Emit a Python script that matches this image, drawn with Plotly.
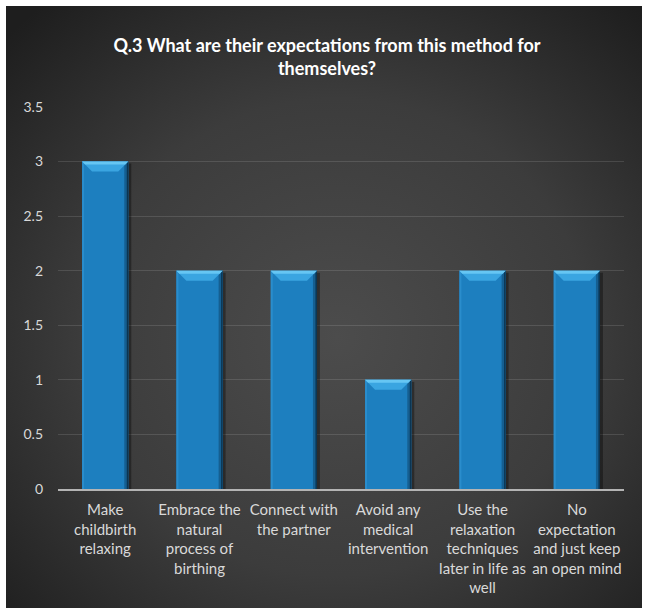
import base64
import plotly.graph_objects as go

# Survey responses: number of participants choosing each expectation
categories = [
    "Make<br>childbirth<br>relaxing",
    "Embrace the<br>natural<br>process of<br>birthing",
    "Connect with<br>the partner",
    "Avoid any<br>medical<br>intervention",
    "Use the<br>relaxation<br>techniques<br>later in life as<br>well",
    "No<br>expectation<br>and just keep<br>an open mind",
]
counts = [3, 2, 2, 1, 2, 2]
y_ticks = [0, 0.5, 1, 1.5, 2, 2.5, 3, 3.5]
y_tick_text = ["0", "0.5", "1", "1.5", "2", "2.5", "3", "3.5"]

title_text = "Q.3 What are their expectations from this method for<br>themselves?"

# Figure geometry
W, H = 645, 611
ML, MR, MT, MB = 58, 21, 107, 122
plot_w = W - ML - MR
plot_h = H - MT - MB
y_max = 3.5
n = len(categories)
xs = list(range(n))
bar_w = 0.49

# conversion of pixels to data units for the bar decorations
px_x = n / plot_w
px_y = y_max / plot_h

fig = go.Figure()
fig.add_trace(go.Bar(
    x=xs, y=counts, width=bar_w,
    marker=dict(color="#1d7fbf", line=dict(width=0)),
    hoverinfo="skip",
))

shapes = []
for xi, v in zip(xs, counts):
    x0 = xi - bar_w / 2
    x1 = xi + bar_w / 2
    # soft drop shadow on the right
    shapes.append(dict(type="rect", xref="x", yref="y", layer="between",
                       x0=x1, x1=x1 + 3 * px_x, y0=0, y1=v - 2 * px_y,
                       fillcolor="rgba(0,0,0,0.35)", line=dict(width=0)))
    # lighter left edge
    shapes.append(dict(type="rect", xref="x", yref="y", layer="above",
                       x0=x0, x1=x0 + 2 * px_x, y0=0, y1=v,
                       fillcolor="#2a8dcc", line=dict(width=0)))
    # darker right edge
    shapes.append(dict(type="rect", xref="x", yref="y", layer="above",
                       x0=x1 - 4 * px_x, x1=x1, y0=0, y1=v,
                       fillcolor="#155f91", line=dict(width=0)))
    shapes.append(dict(type="rect", xref="x", yref="y", layer="above",
                       x0=x1 - 1.5 * px_x, x1=x1, y0=0, y1=v,
                       fillcolor="#0b3552", line=dict(width=0)))
    # bevelled top
    dx, dy = 10 * px_x, 10 * px_y
    shapes.append(dict(type="path", xref="x", yref="y", layer="above",
                       path=(f"M {x0},{v} L {x1},{v} L {x1 - dx},{v - dy} "
                             f"L {x0 + dx},{v - dy} Z"),
                       fillcolor="#3aa5e1", line=dict(width=0)))
    tx, ty = 3 * px_x, 3 * px_y
    shapes.append(dict(type="path", xref="x", yref="y", layer="above",
                       path=(f"M {x0},{v} L {x1},{v} L {x1 - tx},{v - ty} "
                             f"L {x0 + tx},{v - ty} Z"),
                       fillcolor="#66c6f3", line=dict(width=0)))

# radial dark background panel
svg = (
    "<svg xmlns='http://www.w3.org/2000/svg' width='636' height='602' "
    "viewBox='0 0 636 602' preserveAspectRatio='none'>"
    "<defs><radialGradient id='g' cx='0.52' cy='0.55' r='0.72'>"
    "<stop offset='0' stop-color='#4c4c4c'/>"
    "<stop offset='0.55' stop-color='#3c3c3c'/>"
    "<stop offset='1' stop-color='#1e1e1e'/>"
    "</radialGradient></defs>"
    "<rect width='636' height='602' fill='url(#g)'/></svg>"
)
svg_uri = "data:image/svg+xml;base64," + base64.b64encode(svg.encode()).decode()
bg_x0, bg_y0, bg_x1, bg_y1 = 6, 6, 642, 608

fig.add_layout_image(dict(
    source=svg_uri, xref="paper", yref="paper",
    x=(bg_x0 - ML) / plot_w, y=(H - MB - bg_y0) / plot_h,
    sizex=(bg_x1 - bg_x0) / plot_w, sizey=(bg_y1 - bg_y0) / plot_h,
    xanchor="left", yanchor="top", sizing="stretch", layer="below",
))

fig.update_layout(
    width=W, height=H, autosize=False,
    margin=dict(l=ML, r=MR, t=MT, b=MB, pad=0),
    paper_bgcolor="white",
    plot_bgcolor="rgba(0,0,0,0)",
    showlegend=False,
    shapes=shapes,
    title=dict(
        text=title_text,
        x=327 / W, xref="container", xanchor="center",
        y=1 - 51.5 / H, yref="container", yanchor="middle",
        font=dict(family="Lato", size=18, color="white", weight="bold"),
    ),
    font=dict(family="Lato", color="#d9d9d9"),
    xaxis=dict(
        range=[-0.5, n - 0.5],
        tickmode="array", tickvals=xs, ticktext=categories,
        tickfont=dict(size=15, color="#d9d9d9"),
        showgrid=False, zeroline=False,
        showline=True, linecolor="#b4b4b4", linewidth=2,
        ticks="", ticklabelstandoff=6,
        fixedrange=True,
    ),
    yaxis=dict(
        range=[0, y_max],
        tickmode="array", tickvals=y_ticks, ticktext=y_tick_text,
        tickfont=dict(size=14, color="#d9d9d9"),
        showgrid=True, gridcolor="rgba(255,255,255,0.12)", gridwidth=1,
        zeroline=False, showline=False,
        ticks="", ticklabelstandoff=14,
        fixedrange=True,
    ),
)

fig.write_html("out.html")
